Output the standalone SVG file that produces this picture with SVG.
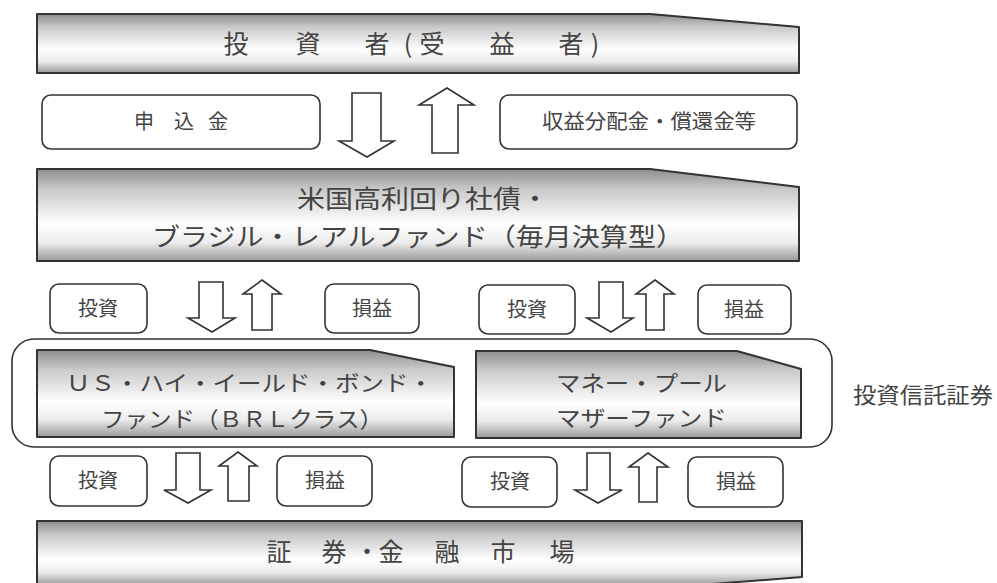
<svg xmlns="http://www.w3.org/2000/svg" width="997" height="583" viewBox="0 0 997 583">
<defs>
<linearGradient id="bg" x1="0" y1="0" x2="0" y2="1">
<stop offset="0" stop-color="#8e8e8e"/>
<stop offset="0.22" stop-color="#c9c9c9"/>
<stop offset="0.6" stop-color="#ffffff"/>
<stop offset="0.8" stop-color="#ececec"/>
<stop offset="1" stop-color="#9a9a9a"/>
</linearGradient>
<style>
.ban{fill:url(#bg);stroke:#333;stroke-width:2;stroke-linejoin:round}
.box{fill:#fff;stroke:#333;stroke-width:1.6}
.arr{fill:#fff;stroke:#333;stroke-width:1.6;stroke-linejoin:miter}
.t{font-family:"Noto Sans CJK JP","Liberation Sans",sans-serif;fill:#444}
.c{text-anchor:middle}
</style>
</defs>
<rect width="997" height="583" fill="#fff"/>

<g id="investor">
<polygon class="ban" points="37,14 650,14 799,27 799,73 37,73"/>
<text class="t c" font-size="25" y="53" x="236 308 377 408 432 502 571 595">投資者(受益者)</text>
</g>

<g id="subscription">
<rect class="box" x="42" y="95" width="278" height="54" rx="9"/>
<text class="t c" font-size="20" y="129" x="144 184 218">申込金</text>
</g>

<g id="distribution">
<rect class="box" x="500" y="95" width="297" height="54" rx="9"/>
<text class="t" font-size="20" y="129" x="542" textLength="214" lengthAdjust="spacingAndGlyphs">収益分配金・償還金等</text>
</g>

<g id="fund">
<polygon class="ban" points="37,169 650,169 799,187 799,261 37,261"/>
<text class="t" font-size="25" y="208" x="297" textLength="252" lengthAdjust="spacingAndGlyphs">米国高利回り社債・</text>
<text class="t" font-size="25" y="246" x="152" textLength="532" lengthAdjust="spacingAndGlyphs">ブラジル・レアルファンド（毎月決算型）</text>
</g>

<g id="inv1"><rect class="box" x="50" y="284" width="97" height="49" rx="9"/><text class="t c" font-size="20" x="98" y="316">投資</text></g>
<g id="pl1"><rect class="box" x="325" y="284" width="94" height="49" rx="9"/><text class="t c" font-size="20" x="372" y="316">損益</text></g>
<g id="inv2"><rect class="box" x="479" y="285" width="96" height="49" rx="9"/><text class="t c" font-size="20" x="527" y="317">投資</text></g>
<g id="pl2"><rect class="box" x="698" y="285" width="93" height="49" rx="9"/><text class="t c" font-size="20" x="744" y="317">損益</text></g>

<g id="trust">
<rect class="box" x="12" y="339" width="820" height="108" rx="22" stroke-width="2"/>
<text class="t" font-size="22" x="853" y="403" textLength="140" lengthAdjust="spacingAndGlyphs">投資信託証券</text>
</g>

<g id="usfund">
<polygon class="ban" points="37,350 370,350 454,367 454,437 37,437"/>
<text class="t" font-size="22" x="66" y="391" textLength="367" lengthAdjust="spacingAndGlyphs">ＵＳ・ハイ・イールド・ボンド・</text>
<text class="t" font-size="22" x="101" y="427" textLength="282" lengthAdjust="spacingAndGlyphs">ファンド（ＢＲＬクラス）</text>
</g>

<g id="moneypool">
<polygon class="ban" points="476,351 737,351 801,369 801,438 476,438"/>
<text class="t" font-size="22" x="556" y="391" textLength="171" lengthAdjust="spacingAndGlyphs">マネー・プール</text>
<text class="t" font-size="22" x="556" y="426" textLength="171" lengthAdjust="spacingAndGlyphs">マザーファンド</text>
</g>

<g id="inv3"><rect class="box" x="50" y="456" width="97" height="50" rx="9"/><text class="t c" font-size="20" x="98" y="488">投資</text></g>
<g id="pl3"><rect class="box" x="277" y="456" width="95" height="50" rx="9"/><text class="t c" font-size="20" x="325" y="488">損益</text></g>
<g id="inv4"><rect class="box" x="462" y="457" width="95" height="50" rx="9"/><text class="t c" font-size="20" x="510" y="489">投資</text></g>
<g id="pl4"><rect class="box" x="688" y="457" width="95" height="50" rx="9"/><text class="t c" font-size="20" x="736" y="489">損益</text></g>

<g id="market">
<polygon class="ban" points="37,521 802,521 802,577 700,585 37,585"/>
<text class="t c" font-size="25" y="561" x="279 334 367 391 447 503 562">証券・金融市場</text>
</g>

<g id="connectors">
<polygon class="arr" points="352,93 381,93 381,141 394,141 367,157 339,141 352,141"/>
<polygon class="arr" points="447,88 474,105 458,105 458,153 432,153 432,105 419,105"/>
<polygon class="arr" points="199,282 223,282 223,318 235,318 212,332 188,318 199,318"/>
<polygon class="arr" points="262,280 281,294 272,294 272,330 252,330 252,294 243,294"/>
<polygon class="arr" points="599,282 623,282 623,318 633,318 611,332 587,318 599,318"/>
<polygon class="arr" points="655,280 674,294 664,294 664,330 646,330 646,294 636,294"/>
<polygon class="arr" points="176,453 200,453 200,490 211,490 188,503 164,490 176,490"/>
<polygon class="arr" points="238,452 257,466 249,466 249,501 228,501 228,466 219,466"/>
<polygon class="arr" points="587,453 610,453 610,490 622,490 598,503 575,490 587,490"/>
<polygon class="arr" points="648,453 668,467 657,467 657,502 639,502 639,467 629,467"/>
</g>
</svg>
